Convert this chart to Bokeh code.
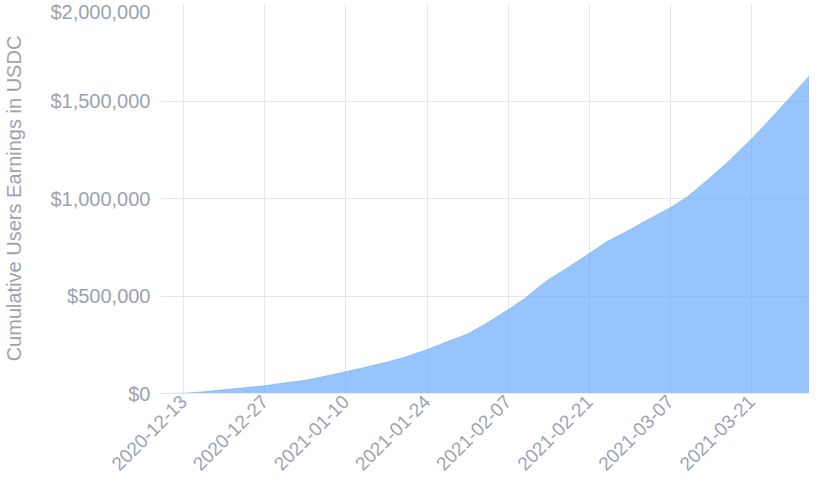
import pandas as pd
from math import pi
from bokeh.plotting import figure
from bokeh.models import NumeralTickFormatter, DatetimeTickFormatter, FixedTicker, Range1d, ColumnDataSource
from bokeh.embed import file_html
from bokeh.resources import INLINE

dates = ["2020-12-09", "2020-12-13", "2020-12-16", "2020-12-20", "2020-12-23", "2020-12-27",
         "2020-12-30", "2021-01-03", "2021-01-06", "2021-01-10", "2021-01-13", "2021-01-17",
         "2021-01-20", "2021-01-24", "2021-01-27", "2021-01-31", "2021-02-03", "2021-02-07",
         "2021-02-10", "2021-02-12", "2021-02-14", "2021-02-17", "2021-02-21", "2021-02-24",
         "2021-02-28", "2021-03-03", "2021-03-07", "2021-03-10", "2021-03-14", "2021-03-17",
         "2021-03-21", "2021-03-24", "2021-03-28", "2021-03-31"]
earnings = [0, 1000, 8000, 19000, 28000, 40000,
            52000, 68000, 86000, 112000, 132000, 160000,
            185000, 225000, 260000, 305000, 355000, 430000,
            490000, 540000, 585000, 640000, 718000, 778000,
            840000, 890000, 953000, 1010000, 1110000, 1190000,
            1305000, 1400000, 1530000, 1630000]
tick_dates = ["2020-12-13", "2020-12-27", "2021-01-10", "2021-01-24",
              "2021-02-07", "2021-02-21", "2021-03-07", "2021-03-21"]
y_ticks = [0, 500000, 1000000, 1500000, 2000000]

x = pd.to_datetime(dates)
src = ColumnDataSource(dict(x=x, y=earnings))

TEXT = "#9ca3af"
FONT = "Liberation Sans"

p = figure(width=809, height=479, x_axis_type="datetime", output_backend="svg",
           toolbar_location=None, min_border_left=140, min_border_right=0,
           min_border_top=3, min_border_bottom=0)
p.x_range = Range1d(x[0], x[-1])
p.y_range = Range1d(0, 2000000)
p.outline_line_color = None

p.varea(x="x", y1=0, y2="y", source=src, fill_color="#60a5fa", fill_alpha=0.65)
p.line(x="x", y="y", source=src, line_color="#60a5fa", line_alpha=0.5, line_width=1)

tick_ms = [pd.Timestamp(d).value // 10**6 for d in tick_dates]
p.xaxis.ticker = FixedTicker(ticks=tick_ms)
p.xaxis.formatter = DatetimeTickFormatter(days="%Y-%m-%d", months="%Y-%m-%d", years="%Y-%m-%d")
p.xaxis.major_label_orientation = pi / 4
p.yaxis.ticker = FixedTicker(ticks=y_ticks)
p.yaxis.formatter = NumeralTickFormatter(format="$0,0")
p.yaxis.axis_label = "Cumulative Users Earnings in USDC"

for ax in (p.xaxis[0], p.yaxis[0]):
    ax.axis_line_color = None
    ax.major_tick_line_color = None
    ax.minor_tick_line_color = None
    ax.major_tick_out = 0
    ax.major_tick_in = 0
    ax.major_label_text_color = TEXT
    ax.major_label_text_font = FONT
    ax.major_label_text_font_style = "normal"
p.yaxis.major_label_standoff = 10
p.xaxis.major_label_standoff = 5
p.xaxis.major_label_text_font_size = "19px"
p.yaxis.major_label_text_font_size = "20px"
p.yaxis.axis_label_text_font = FONT
p.yaxis.axis_label_text_font_size = "20px"
p.yaxis.axis_label_text_font_style = "normal"
p.yaxis.axis_label_text_color = TEXT
p.yaxis.axis_label_standoff = 22

p.xgrid.ticker = FixedTicker(ticks=tick_ms)
p.ygrid.ticker = FixedTicker(ticks=y_ticks)
p.grid.grid_line_color = "#e5e7eb"
p.grid.grid_line_width = 1

open("out.html", "w").write(file_html(p, INLINE))
